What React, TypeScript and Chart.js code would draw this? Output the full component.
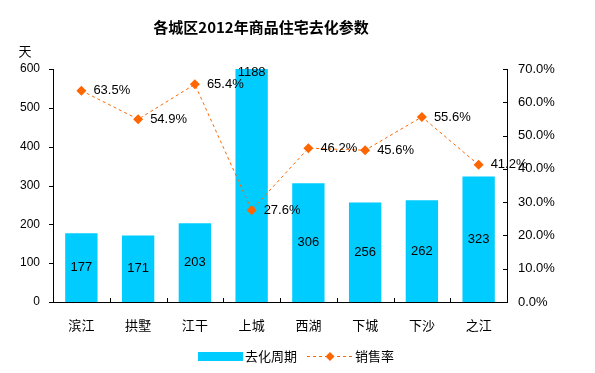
import React, { useEffect, useRef } from "react";
import { Chart, registerables } from "chart.js";

Chart.register(...registerables);

const categories = ["滨江", "拱墅", "江干", "上城", "西湖", "下城", "下沙", "之江"];
const daysValues = [177, 171, 203, 1188, 306, 256, 262, 323];
const rateValues = [63.5, 54.9, 65.4, 27.6, 46.2, 45.6, 55.6, 41.2];
const titleText = "各城区2012年商品住宅去化参数";
const leftUnit = "天";
const barLabel = "去化周期";
const lineLabel = "销售率";

const FONT = "'Liberation Sans', 'Noto Sans CJK SC', sans-serif";
const BAR_COLOR = "#00CCFF";
const LINE_COLOR = "#FF6600";

const decorPlugin = {
  id: "decor",
  afterDatasetsDraw(chart: any) {
    const ctx = chart.ctx;
    const area = chart.chartArea;
    const xs = chart.scales.x;
    const y = chart.scales.y;
    const y1 = chart.scales.y1;
    ctx.save();
    // tick marks
    ctx.strokeStyle = "#000";
    ctx.lineWidth = 1;
    ctx.beginPath();
    y.ticks.forEach((t: any) => {
      const py = Math.round(y.getPixelForValue(t.value)) + 0.5;
      ctx.moveTo(area.left - 4, py);
      ctx.lineTo(area.left, py);
    });
    y1.ticks.forEach((t: any) => {
      const py = Math.round(y1.getPixelForValue(t.value)) + 0.5;
      ctx.moveTo(area.right - 4, py);
      ctx.lineTo(area.right, py);
    });
    const n = categories.length;
    for (let i = 1; i <= n; i++) {
      const px = Math.round(area.left + (i * (area.right - area.left)) / n) + 0.5;
      ctx.moveTo(px, area.bottom - 4);
      ctx.lineTo(px, area.bottom);
    }
    ctx.stroke();

    // bar labels
    ctx.fillStyle = "#000";
    ctx.font = `13px ${FONT}`;
    ctx.textAlign = "center";
    ctx.textBaseline = "middle";
    const barMeta = chart.getDatasetMeta(0);
    barMeta.data.forEach((bar: any, i: number) => {
      let cy = (bar.y + bar.base) / 2;
      if (cy < area.top + 3) cy = area.top + 3;
      ctx.fillText(String(daysValues[i]), bar.x, cy);
    });
    // line labels
    ctx.textAlign = "left";
    const lineMeta = chart.getDatasetMeta(1);
    lineMeta.data.forEach((pt: any, i: number) => {
      ctx.fillText(rateValues[i].toFixed(1) + "%", pt.x + 12, pt.y);
    });

    // title
    ctx.font = `bold 15px 'Noto Sans CJK SC', ${FONT}`;
    ctx.textAlign = "center";
    ctx.fillText(titleText, 261, 27);
    // unit
    ctx.font = `13px 'Noto Sans CJK SC', ${FONT}`;
    ctx.fillText(leftUnit, 25, 51);

    // legend
    ctx.fillStyle = BAR_COLOR;
    ctx.fillRect(198, 352, 45, 9);
    ctx.fillStyle = "#000";
    ctx.textAlign = "left";
    ctx.font = `13px 'Noto Sans CJK SC', ${FONT}`;
    ctx.fillText(barLabel, 245, 356);
    ctx.strokeStyle = LINE_COLOR;
    ctx.setLineDash([3, 3]);
    ctx.beginPath();
    ctx.moveTo(307, 356.5);
    ctx.lineTo(352, 356.5);
    ctx.stroke();
    ctx.setLineDash([]);
    ctx.fillStyle = LINE_COLOR;
    ctx.beginPath();
    ctx.moveTo(330 - 4.5, 356.5);
    ctx.lineTo(330, 352);
    ctx.lineTo(330 + 4.5, 356.5);
    ctx.lineTo(330, 361);
    ctx.closePath();
    ctx.fill();
    ctx.fillStyle = "#000";
    ctx.fillText(lineLabel, 355, 356);
    ctx.restore();
  },
};

export default function App() {
  const ref = useRef<HTMLCanvasElement>(null);
  useEffect(() => {
    document.body.style.margin = "0";
    const chart = new Chart(ref.current as HTMLCanvasElement, {
      type: "bar",
      data: {
        labels: categories,
        datasets: [
          {
            type: "bar",
            label: barLabel,
            data: daysValues,
            backgroundColor: BAR_COLOR,
            borderWidth: 0,
            barPercentage: 0.57,
            categoryPercentage: 1,
            yAxisID: "y",
            order: 2,
          } as any,
          {
            type: "line",
            label: lineLabel,
            data: rateValues,
            borderColor: LINE_COLOR,
            borderWidth: 1,
            borderDash: [3, 3],
            backgroundColor: LINE_COLOR,
            pointStyle: "rectRot",
            pointRadius: 5,
            pointBackgroundColor: LINE_COLOR,
            pointBorderColor: LINE_COLOR,
            pointBorderWidth: 0,
            yAxisID: "y1",
            order: 1,
            tension: 0,
            clip: false,
          } as any,
        ],
      },
      options: {
        animation: false,
        responsive: false,
        layout: { padding: { top: 69, left: 0, right: 0, bottom: 0 } },
        plugins: {
          legend: { display: false },
          title: { display: false },
          tooltip: { enabled: false },
        },
        scales: {
          x: {
            offset: true,
            grid: { display: false, drawTicks: false },
            border: { display: true, color: "#000", width: 1 },
            ticks: {
              color: "#000",
              font: { family: "'Noto Sans CJK SC', " + FONT, size: 13 },
              padding: 15,
              maxRotation: 0,
            },
            afterFit: (s: any) => {
              s.height = 71;
            },
          },
          y: {
            position: "left",
            min: 0,
            max: 600,
            grid: { display: false, drawTicks: false },
            border: { display: true, color: "#000", width: 1 },
            ticks: {
              stepSize: 100,
              color: "#000",
              font: { family: FONT, size: 12 },
              padding: 13,
            },
            afterFit: (s: any) => {
              s.width = 53;
            },
          },
          y1: {
            position: "right",
            min: 0,
            max: 70,
            grid: { display: false, drawTicks: false },
            border: { display: true, color: "#000", width: 1 },
            ticks: {
              stepSize: 10,
              color: "#000",
              font: { family: FONT, size: 13 },
              padding: 11,
              callback: (v: any) => Number(v).toFixed(1) + "%",
            },
            afterFit: (s: any) => {
              s.width = 88;
            },
          },
        },
      },
      plugins: [decorPlugin],
    });
    return () => chart.destroy();
  }, []);
  return (
    <div style={{ width: 595, height: 373 }}>
      <canvas ref={ref} width={595} height={373} />
    </div>
  );
}
